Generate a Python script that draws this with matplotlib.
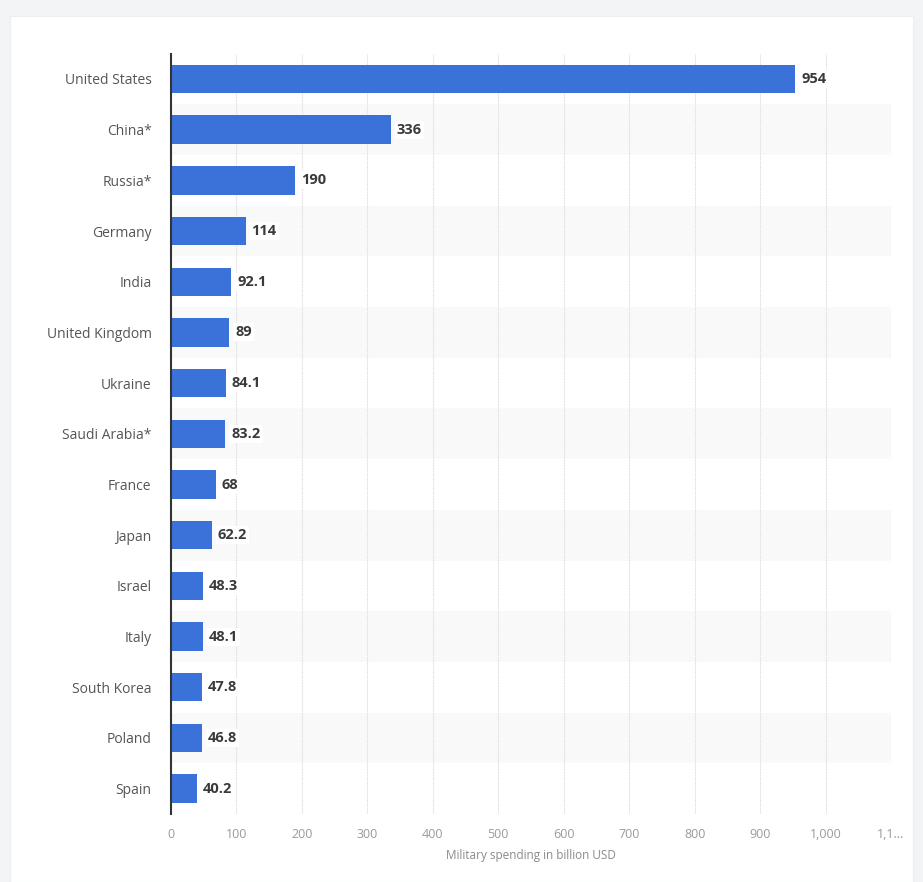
from matplotlib import pyplot as plt
from matplotlib.patches import Rectangle
import numpy as np

countries = ['United States', 'China*', 'Russia*', 'Germany', 'India',
             'United Kingdom', 'Ukraine', 'Saudi Arabia*', 'France', 'Japan',
             'Israel', 'Italy', 'South Korea', 'Poland', 'Spain']
spending = [954, 336, 190, 114, 92.1, 89, 84.1, 83.2, 68, 62.2,
            48.3, 48.1, 47.8, 46.8, 40.2]
x_ticks = [0, 100, 200, 300, 400, 500, 600, 700, 800, 900, 1000, 1100]
x_tick_labels = ['0', '100', '200', '300', '400', '500', '600', '700',
                 '800', '900', '1,000', '1,1...']

plt.rcParams['font.family'] = ['Open Sans', 'DejaVu Sans']

fig = plt.figure(figsize=(9.23, 8.82), dpi=100, facecolor='#f3f4f6')

# white card behind the chart
fig.patches.append(Rectangle((10 / 923, 0), 903 / 923, 1 - 16 / 882,
                             transform=fig.transFigure, facecolor='white',
                             edgecolor='#eceef1', linewidth=0.8, zorder=-10))

ax = fig.add_axes([0.1853, 0.0771, 0.78, 0.8621])
ax.set_facecolor('none')

y = np.arange(len(countries))

# alternating row stripes
for i in y:
    if i % 2 == 1:
        ax.axhspan(i - 0.5, i + 0.5, color='#f9f9f9', zorder=0, linewidth=0)

ax.barh(y, spending, height=0.56, color='#3b72d9', zorder=3)

for yi, v in zip(y, spending):
    ax.text(v + 9, yi, '{:g}'.format(v), va='center', ha='left',
            fontsize=10.5, fontweight='bold', color='#3a3a3a', zorder=4,
            bbox=dict(facecolor='white', edgecolor='none', pad=1.5))

ax.set_xlim(0, 1100)
ax.set_ylim(len(countries) - 0.5, -0.5)

ax.set_xticks(x_ticks)
ax.set_xticklabels(x_tick_labels, fontsize=9, color='#9a9a9a')
ax.set_yticks(y)
ax.set_yticklabels(countries, fontsize=10, color='#555555')
ax.tick_params(axis='x', length=0, pad=10)
ax.tick_params(axis='y', length=0, pad=14)

ax.xaxis.grid(True, color='#e0e0e0', linestyle=(0, (1.5, 0.8)),
              linewidth=0.8, zorder=1)
ax.set_axisbelow(True)

for side in ['top', 'right', 'bottom']:
    ax.spines[side].set_visible(False)
ax.spines['left'].set_color('#333333')
ax.spines['left'].set_linewidth(1.5)
ax.spines['left'].set_zorder(5)

ax.set_xlabel('Military spending in billion USD', fontsize=8.5,
              color='#8a8a8a', labelpad=6)

plt.savefig('out.png', dpi=100, facecolor=fig.get_facecolor())
